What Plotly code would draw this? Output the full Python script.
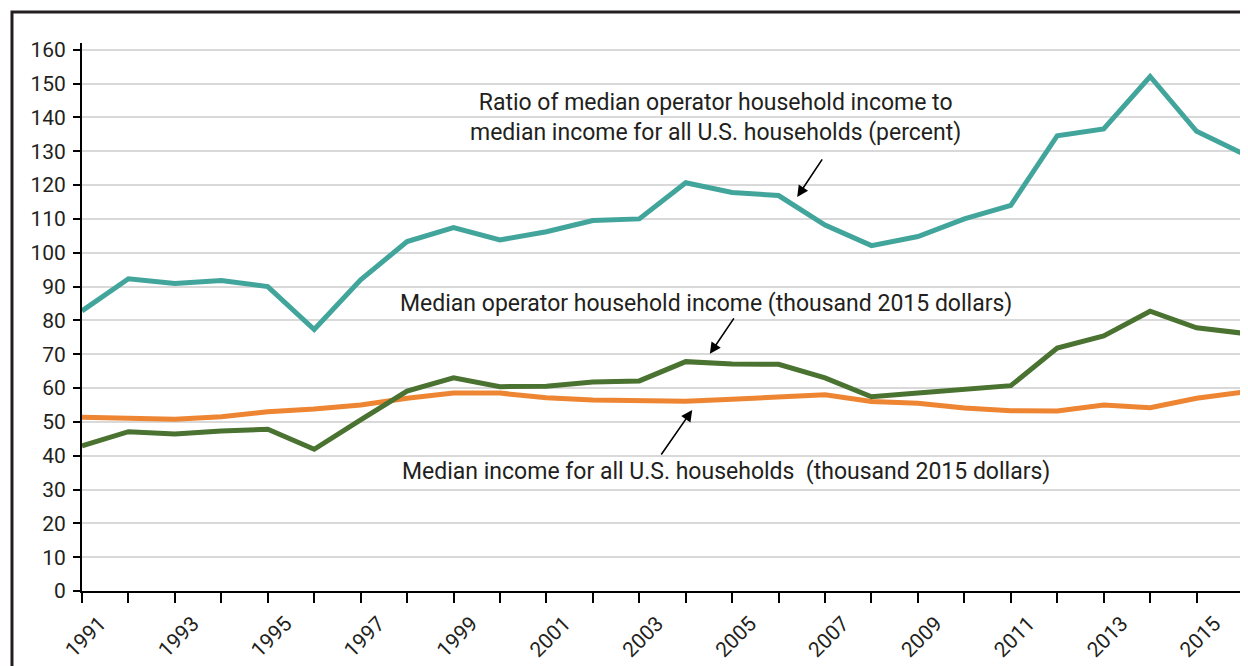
import plotly.graph_objects as go

# Data
years = list(range(1991, 2017))
ratio_pct = [82.8, 92.3, 90.9, 91.8, 90.0, 77.3, 92.0, 103.3, 107.4, 103.8,
             106.2, 109.5, 110.0, 120.7, 117.8, 116.9, 108.2, 102.1, 104.8, 110.0,
             114.0, 134.6, 136.6, 152.1, 135.9, 129.3]
operator_income = [42.9, 47.1, 46.4, 47.3, 47.8, 41.9, 50.6, 59.1, 63.0, 60.4,
                   60.5, 61.8, 62.1, 67.8, 67.1, 67.0, 63.0, 57.4, 58.5, 59.5,
                   60.7, 71.8, 75.4, 82.7, 77.8, 76.2]
us_income = [51.4, 51.1, 50.8, 51.5, 53.0, 53.8, 55.0, 57.0, 58.5, 58.5,
             57.1, 56.5, 56.3, 56.1, 56.7, 57.2, 58.0, 56.0, 55.5, 54.1,
             53.3, 53.2, 55.0, 54.2, 57.0, 58.8]
year_labels = [str(y) if y % 2 == 1 else '' for y in years]
y_ticks = list(range(0, 170, 10))

TEXT = '#231f20'
FONT = 'Roboto'

fig = go.Figure()
fig.add_trace(go.Scatter(x=years, y=us_income, mode='lines',
                         line=dict(color='#ed8533', width=5)))
fig.add_trace(go.Scatter(x=years, y=operator_income, mode='lines',
                         line=dict(color='#4a7230', width=5)))
fig.add_trace(go.Scatter(x=years, y=ratio_pct, mode='lines',
                         line=dict(color='#41a59b', width=5)))

# Text labels
labels = [
    (2004.65, 140.1, 'Ratio of median operator household income to<br>median income for all U.S. households (percent)'),
    (2004.43, 85.1, 'Median operator household income (thousand 2015 dollars)'),
    (2004.86, 35.2, 'Median income for all U.S. households  (thousand 2015 dollars)'),
]
for x, y, txt in labels:
    fig.add_annotation(x=x, y=y, text=txt, showarrow=False,
                       font=dict(family=FONT, size=23, color=TEXT),
                       align='center', xanchor='center', yanchor='middle')

# Arrows (head in data coords, tail offset in px)
arrows = [(2006.40, 116.5, 26, -39), (2004.52, 70.1, 25, -37), (2004.14, 53.5, -32, 46)]
for x, y, ax, ay in arrows:
    fig.add_annotation(x=x, y=y, ax=ax, ay=ay, text='', showarrow=True,
                       arrowhead=2, arrowsize=1.4, arrowwidth=1.6, arrowcolor='#000000')

# Outer frame
fig.add_shape(type='rect', xref='paper', yref='paper',
              x0=-0.0603, x1=1.2, y0=-0.3, y1=1.0566,
              line=dict(color=TEXT, width=3), layer='below')

# page body adds an 8px margin, so the figure is 8px smaller each way
fig.update_layout(
    width=1240, height=658,
    margin=dict(l=74, r=5, t=35, b=75),
    plot_bgcolor='white', paper_bgcolor='white',
    showlegend=False,
    font=dict(family=FONT, color=TEXT),
)
fig.update_xaxes(
    range=[1991, 2016], tickmode='array', tickvals=years, ticktext=year_labels,
    tickangle=-45, ticks='outside', ticklen=10, tickwidth=1.5, tickcolor='#000000',
    showline=True, linecolor='#000000', linewidth=2, showgrid=False, zeroline=False,
    tickfont=dict(family=FONT, size=21, color=TEXT), ticklabelshift=18,
    automargin=False,
)
fig.update_yaxes(
    range=[0, 162], tickmode='array', tickvals=y_ticks,
    ticks='outside', ticklen=7, tickwidth=1.5, tickcolor='#000000',
    showline=True, linecolor='#000000', linewidth=2,
    showgrid=True, gridcolor='#d9d9d9', gridwidth=1.5, zeroline=False,
    tickfont=dict(family=FONT, size=21, color=TEXT), ticklabelstandoff=3,
    automargin=False,
)

fig.write_html('out.html')
